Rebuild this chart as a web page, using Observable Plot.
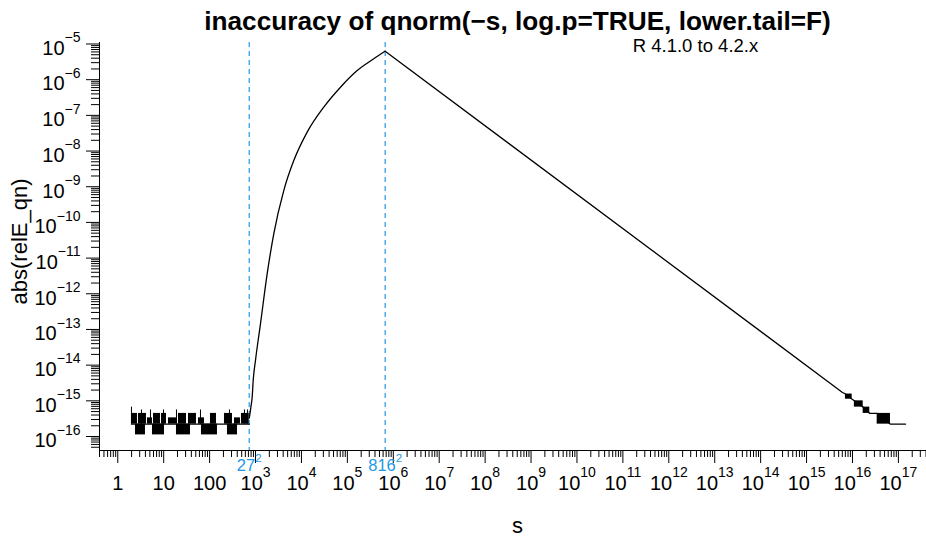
<!DOCTYPE html>
<html>
<head>
<meta charset="utf-8">
<script src="https://cdn.jsdelivr.net/npm/d3@7"></script>
<script src="https://cdn.jsdelivr.net/npm/@observablehq/plot@0.6"></script>
<style>
  body { margin: 0; background: #fff; }
  #chart { width: 926px; height: 539px; overflow: hidden; }
</style>
</head>
<body>
<div id="chart"></div>
<script>
// ---------------- data ----------------
const u = 1.1102e-16; // eps/2, the quantisation unit of the relative error

// smooth rise between 27^2 and 816^2
const riseS = [729, 760, 790, 845, 889, 997, 1281, 1792, 2496, 4121, 6805, 13330, 30620, 70790, 163400, 375800, 665856];
const riseV = [3.3e-16, 4.5e-16, 6.5e-16, 1.26e-15, 3.7e-15, 1.35e-14, 1.44e-13, 3.6e-12, 4.8e-11, 7.8e-10, 5.4e-9, 3.4e-8, 1.7e-7, 6.15e-7, 1.8e-6, 3.85e-6, 6.3e-6];

// decreasing tail after 816^2
const tailS = [665856, 5.96e15, 7.03e15, 9.84e15, 1.10e16, 1.71e16, 2.38e16, 3.45e16, 6.72e16, 1.43e17];
const tailV = [6.3e-6, 1.74e-15, 1.55e-15, 1.11e-15, 9.99e-16, 6.66e-16, 4.44e-16, 4.44e-16, 2.22e-16, 2.22e-16];

// oscillation blocks in the tail
const tailBlockS0 = [7.03e15, 1.10e16, 1.71e16, 3.45e16];
const tailBlockS1 = [9.84e15, 1.71e16, 2.38e16, 6.72e16];
const tailBlockLo = [1.11e-15, 6.66e-16, 4.44e-16, 2.22e-16];
const tailBlockHi = [1.55e-15, 9.99e-16, 6.66e-16, 4.44e-16];

// noisy region s in [2, 27^2]: levels are multiples of u
const noiseStart = 1.988, noiseEnd = 729, noiseBaseK = 2;
const upperS0 = [1.988, 2.823, 4.435, 5.990, 8.946, 12.71, 20.98, 34.65, 57.20, 104.4, 210.7, 347.9, 494.1];
const upperS1 = [2.685, 4.217, 5.698, 8.508, 11.50, 18.98, 31.35, 51.74, 77.29, 141.1, 314.7, 469.9, 729];
const upperK  = [4, 4, 3, 4, 4, 3, 4, 4, 3, 4, 4, 3, 4];
const lowerS0 = [2.429, 5.698, 18.98, 66.48, 244.8];
const lowerS1 = [4.011, 10.40, 38.31, 148.3, 404.4];
const spikeS = [1.988, 3.282, 5.154, 9.890, 18.98, 63.23, 270.7, 574.2, 667.3];
const spikeK = [6, 5, 5, 5, 5, 5, 5, 5, 5];

// reference lines
const markS = [729, 665856];
const markLabels = ["27^2", "816^2"];

// tick labels
const xMajorExp = [0, 1, 2, 3, 4, 5, 6, 7, 8, 9, 10, 11, 12, 13, 14, 15, 16, 17];
const xMajorLabels = ["1", "10", "100", "10^3", "10^4", "10^5", "10^6", "10^7", "10^8", "10^9", "10^10", "10^11", "10^12", "10^13", "10^14", "10^15", "10^16", "10^17"];
const yMajorExp = [-16, -15, -14, -13, -12, -11, -10, -9, -8, -7, -6, -5];
const yMajorLabels = ["10^−16", "10^−15", "10^−14", "10^−13", "10^−12", "10^−11", "10^−10", "10^−9", "10^−8", "10^−7", "10^−6", "10^−5"];

const titleText = "inaccuracy of qnorm(−s, log.p=TRUE, lower.tail=F)";
const subtitleText = "R 4.1.0 to 4.2.x";
const xLabel = "s";
const yLabel = "abs(relE_qn)";

// ---------------- build tables ----------------
const xDomain = [0.4, Math.pow(10, 17.612)];
const yDomain = [Math.pow(10, -16.392), Math.pow(10, -4.958)];
const inside = (v, dom) => v >= dom[0] * 0.9999 && v <= dom[1] * 1.0001;

const xMajor = xMajorExp.map(e => Math.pow(10, e));
const yMajor = yMajorExp.map(e => Math.pow(10, e));
const xMinor = [], yMinor = [];
for (let k = -1; k <= 17; k++) for (let m = 2; m <= 9; m++) { const v = m * Math.pow(10, k); if (inside(v, xDomain)) xMinor.push(v); }
for (let k = -17; k <= -5; k++) for (let m = 2; m <= 9; m++) { const v = m * Math.pow(10, k); if (inside(v, yDomain)) yMinor.push(v); }
const xLab = new Map(xMajor.map((v, i) => [v, xMajorLabels[i]]));
const yLab = new Map(yMajor.map((v, i) => [v, yMajorLabels[i]]));

const rise = riseS.map((s, i) => ({s, v: riseV[i]}));
const tail = tailS.map((s, i) => ({s, v: tailV[i]}));
const tailBlocks = tailBlockS0.map((s0, i) => ({s0, s1: tailBlockS1[i], lo: tailBlockLo[i], hi: tailBlockHi[i]}));
const upper = upperS0.map((s0, i) => ({s0, s1: upperS1[i], lo: noiseBaseK * u, hi: upperK[i] * u}));
const lower = lowerS0.map((s0, i) => ({s0, s1: lowerS1[i], lo: u, hi: noiseBaseK * u}));
const spikes = spikeS.map((s, i) => ({s, lo: noiseBaseK * u, hi: spikeK[i] * u}));
const base = [{s: noiseStart, v: noiseBaseK * u}, {s: noiseEnd, v: noiseBaseK * u}];
const marks = markS.map((s, i) => ({s, label: markLabels[i]}));

const BLUE = "#2297E6";
const FONT = "'Liberation Sans', Arial, Helvetica, sans-serif";

const svg = Plot.plot({
  width: 926,
  height: 539,
  marginLeft: 99,
  marginRight: 0,
  marginTop: 42,
  marginBottom: 89,
  x: {type: "log", domain: xDomain},
  y: {type: "log", domain: yDomain},
  style: {fontFamily: FONT, fontSize: "20px", color: "black", background: "white", overflow: "visible"},
  marks: [
    Plot.ruleX(marks, {x: "s", stroke: BLUE, strokeWidth: 1.2, strokeDasharray: "5,4"}),
    Plot.rect(upper, {x1: "s0", x2: "s1", y1: "lo", y2: "hi", fill: "black"}),
    Plot.rect(lower, {x1: "s0", x2: "s1", y1: "lo", y2: "hi", fill: "black"}),
    Plot.ruleX(spikes, {x: "s", y1: "lo", y2: "hi", stroke: "black", strokeWidth: 1}),
    Plot.line(base, {x: "s", y: "v", stroke: "black", strokeWidth: 1.2}),
    Plot.line(rise, {x: "s", y: "v", stroke: "black", strokeWidth: 1.3, curve: "monotone-x"}),
    Plot.line(tail, {x: "s", y: "v", stroke: "black", strokeWidth: 1.3}),
    Plot.rect(tailBlocks, {x1: "s0", x2: "s1", y1: "lo", y2: "hi", fill: "black"}),
    Plot.ruleY([yDomain[0]], {stroke: "black", strokeWidth: 1}),
    Plot.ruleX([xDomain[0]], {stroke: "black", strokeWidth: 1}),
    Plot.axisX(xMinor, {tickSize: 7, tickFormat: () => "", label: null}),
    Plot.axisX(xMajor, {tickSize: 13, tickPadding: 12, tickFormat: d => xLab.get(d), label: null}),
    Plot.axisY(yMinor, {tickSize: 8, tickFormat: () => "", label: null}),
    Plot.axisY(yMajor, {tickSize: 13, tickPadding: 6, tickFormat: d => yLab.get(d), label: null}),
    Plot.text(marks, {x: "s", text: "label", frameAnchor: "bottom", dy: 20, fill: BLUE, fontSize: 16.5})
  ]
});
document.getElementById("chart").appendChild(svg);

// turn "a^b" strings into real superscripts
function supify(el, baseDy, supDy, supSize) {
  const t = el.textContent;
  const i = t.indexOf("^");
  if (i < 0) return;
  const b = t.slice(0, i), p = t.slice(i + 1);
  el.textContent = "";
  const ns = "http://www.w3.org/2000/svg";
  const t1 = document.createElementNS(ns, "tspan");
  t1.textContent = b;
  if (baseDy) t1.setAttribute("dy", baseDy);
  const t2 = document.createElementNS(ns, "tspan");
  t2.textContent = p;
  t2.setAttribute("dy", supDy);
  t2.setAttribute("font-size", supSize);
  el.appendChild(t1);
  el.appendChild(t2);
}
svg.querySelectorAll('g[aria-label="x-axis tick label"] text').forEach(el => supify(el, 0, -12.5, 14));
svg.querySelectorAll('g[aria-label="y-axis tick label"] text').forEach(el => supify(el, 4.4, -12.5, 14));
// remaining a^b texts are the blue 27^2 / 816^2 labels
svg.querySelectorAll('text').forEach(el => {
  if (el.querySelector('tspan')) return;
  if (el.textContent.indexOf("^") >= 0) supify(el, 0, -8.5, 11.5);
});

// titles and axis titles
const s = d3.select(svg);
s.append("text").attr("x", 517.5).attr("y", 30).attr("text-anchor", "middle")
  .attr("font-weight", "bold").attr("font-size", 26.2).attr("fill", "black").text(titleText);
s.append("text").attr("x", 695.5).attr("y", 52).attr("text-anchor", "middle")
  .attr("font-size", 18.5).attr("fill", "black").text(subtitleText);
s.append("text").attr("x", 517.5).attr("y", 533).attr("text-anchor", "middle")
  .attr("font-size", 22).attr("fill", "black").text(xLabel);
s.append("text").attr("transform", "translate(27,241.5) rotate(-90)").attr("text-anchor", "middle")
  .attr("font-size", 22).attr("fill", "black").text(yLabel);
</script>
</body>
</html>
